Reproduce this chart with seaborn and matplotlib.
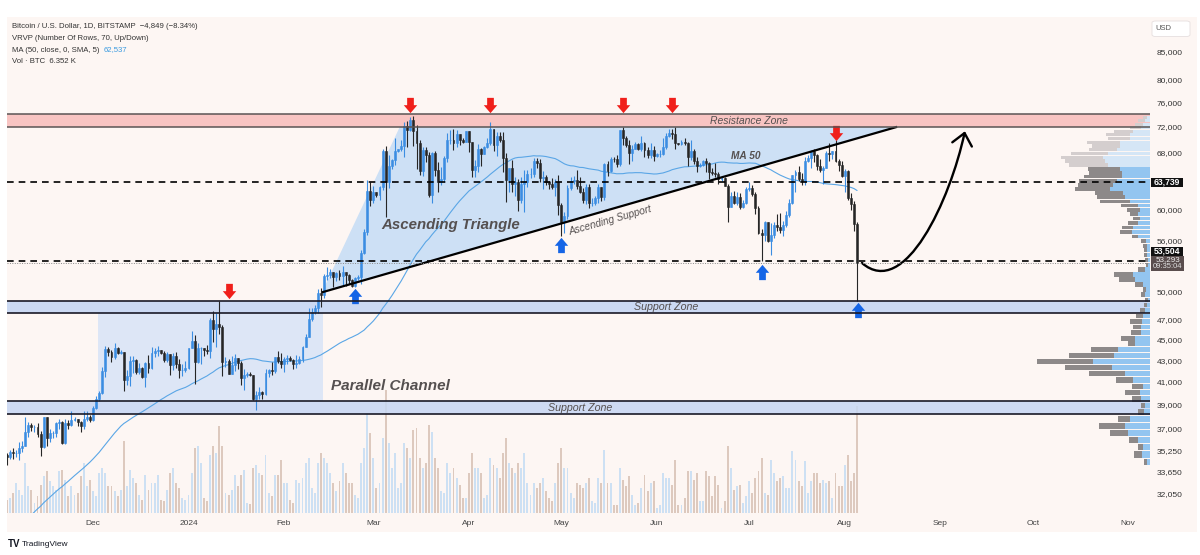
import numpy as np
import pandas as pd
import seaborn as sns
import matplotlib.pyplot as plt
import matplotlib.dates as mdates
from matplotlib.path import Path
from matplotlib.patches import FancyArrowPatch, Rectangle, FancyBboxPatch
from matplotlib.ticker import NullLocator

sns.set_style("white")
plt.rcParams["font.family"] = ["Liberation Sans", "DejaVu Sans"]

# ---- data: BTC/USD daily (Bitstamp), prices in thousands of USD ----
first_day = "2023-11-03"
first_open = 34.9

# closes of the 49 days before the first candle (only used for the 50 day MA)
prior_close = [
    26.6, 26.6, 26.5, 26.8, 27.2, 27.1, 26.6, 26.6, 26.6, 26.3, 26.3, 26.2, 26.4, 27.0, 26.9, 27.0,
    28.0, 27.5, 27.4, 27.8, 27.4, 27.9, 27.9, 27.9, 27.6, 27.4, 26.9, 26.8, 26.9, 26.9, 27.2, 28.5,
    28.4, 28.3, 28.7, 29.7, 30.0, 30.0, 33.1, 33.9, 34.5, 34.2, 33.9, 34.1, 34.5, 34.5, 34.7,
    35.4, 34.9,
]

close = [
    34.7, 35.1, 35.0, 35.0, 35.4, 35.6, 36.7, 37.3, 37.1, 37.1, 36.5, 35.5, 37.9, 36.2, 36.6, 36.6, 37.4, 37.5, 35.8, 37.4, 37.3, 37.7, 37.8, 37.5, 37.2, 37.8, 37.9, 37.7,  # Nov
    38.7, 39.5, 40.0, 42.0, 44.1, 43.8, 43.3, 44.2, 43.7, 43.8, 41.2, 41.5, 42.9, 43.0, 41.9, 42.3, 41.4, 42.7, 42.3, 43.7, 43.9, 44.0, 43.7, 43.0, 43.6, 42.5, 43.4, 42.6, 42.1, 42.1, 42.3,  # Dec
    44.2, 44.9, 42.8, 44.2, 44.2, 44.0, 43.9, 47.0, 46.1, 46.6, 46.3, 42.8, 42.9, 41.7, 42.5, 43.2, 42.7, 41.3, 41.6, 41.7, 41.6, 39.5, 39.8, 40.1, 39.9, 41.8, 42.1, 42.0, 43.3, 42.9, 42.6,  # Jan
    43.1, 43.2, 43.0, 42.6, 42.7, 43.1, 44.3, 45.3, 47.1, 47.8, 48.3, 49.9, 49.7, 51.8, 51.9, 52.2, 51.7, 52.1, 51.8, 52.3, 51.9, 51.3, 50.7, 51.6, 51.7, 54.5, 57.1, 62.5, 61.2,  # Feb
    62.4, 62.0, 63.1, 68.3, 63.8, 66.1, 66.9, 68.3, 68.5, 69.0, 72.1, 71.5, 73.1, 71.4, 69.4, 65.3, 68.4, 67.6, 61.9, 67.9, 65.5, 63.8, 64.1, 67.2, 69.9, 70.0, 69.4, 70.8, 69.9, 69.6, 71.3,  # Mar
    69.7, 65.5, 66.0, 68.5, 67.8, 68.9, 69.4, 71.6, 69.1, 70.6, 70.0, 67.2, 64.0, 65.7, 63.5, 63.8, 61.3, 63.5, 63.8, 64.9, 64.9, 66.8, 66.4, 64.3, 64.5, 63.8, 63.5, 63.1, 63.8, 60.6,  # Apr
    58.3, 59.1, 62.9, 63.9, 64.0, 63.2, 62.3, 61.2, 63.1, 60.8, 60.8, 61.5, 63.0, 61.6, 66.3, 65.3, 67.1, 67.0, 66.3, 71.5, 70.2, 69.2, 68.0, 68.6, 69.3, 68.5, 69.4, 68.4, 67.6, 68.4, 67.5,  # May
    67.8, 67.8, 68.8, 70.6, 71.1, 70.8, 69.4, 69.3, 69.6, 69.5, 67.3, 68.3, 66.8, 66.0, 66.2, 66.7, 66.5, 65.2, 65.0, 64.9, 64.1, 64.3, 63.2, 60.3, 61.8, 60.9, 61.6, 60.3, 60.9, 62.7,  # Jun
    62.9, 62.1, 60.2, 57.0, 56.7, 58.3, 55.9, 56.7, 58.0, 57.7, 57.3, 57.9, 59.2, 60.8, 64.7, 65.1, 64.1, 63.9, 66.7, 67.2, 68.2, 67.6, 66.0, 65.4, 65.8, 67.9, 67.8, 68.3, 66.8, 66.2, 64.6,  # Jul
    65.3, 61.5, 60.7, 58.142, 53.293,  # Aug
]

high = [
    35.0, 35.3, 35.4, 35.3, 35.9, 36.0, 37.9, 37.5, 37.4, 37.3, 37.4, 36.8, 37.9, 37.9, 36.9, 36.8, 37.5, 37.8, 37.6, 37.8, 37.7, 38.4, 37.9, 37.8, 37.6, 38.4, 38.4, 38.1,
    38.9, 39.7, 40.2, 42.4, 44.4, 44.3, 44.0, 44.7, 44.3, 44.0, 43.8, 42.1, 43.4, 43.4, 43.1, 42.7, 42.4, 42.8, 43.5, 44.3, 44.2, 44.4, 44.0, 43.9, 43.8, 43.6, 43.7, 43.8, 43.1, 42.6, 42.9,
    44.2, 45.9, 45.5, 44.7, 44.3, 44.2, 44.5, 47.2, 47.9, 47.7, 49.0, 46.5, 43.3, 43.1, 43.4, 43.6, 43.2, 42.9, 42.2, 41.9, 41.9, 41.6, 40.2, 40.5, 40.2, 42.2, 42.2, 42.8, 43.3, 43.9, 43.7,
    43.3, 43.5, 43.4, 43.1, 43.5, 43.4, 44.4, 45.6, 48.2, 48.2, 48.6, 50.3, 50.4, 52.0, 52.8, 52.6, 52.2, 52.3, 52.5, 52.9, 52.3, 52.0, 51.5, 51.7, 51.9, 54.9, 57.5, 64.0, 63.7,
    63.2, 62.4, 63.2, 68.5, 69.0, 67.6, 67.0, 70.2, 68.6, 70.0, 72.8, 72.9, 73.6, 73.8, 72.3, 70.0, 68.9, 68.9, 68.1, 68.1, 68.2, 66.6, 65.9, 67.5, 71.1, 71.5, 71.7, 71.5, 70.9, 70.3, 71.4,
    71.3, 69.7, 66.9, 69.3, 68.7, 69.0, 70.3, 72.7, 71.7, 71.2, 71.2, 71.2, 67.9, 65.8, 66.9, 64.4, 64.1, 64.5, 65.4, 65.4, 65.7, 67.2, 67.2, 67.1, 65.3, 64.8, 63.9, 64.3, 64.2, 64.7,
    60.8, 59.6, 63.3, 64.5, 64.6, 65.5, 64.4, 62.9, 63.4, 63.5, 61.5, 61.8, 63.4, 63.1, 66.5, 66.7, 67.4, 67.4, 67.7, 71.5, 71.9, 70.6, 70.0, 69.2, 69.6, 69.5, 70.6, 69.6, 68.9, 69.5, 69.0,
    67.9, 68.4, 70.3, 71.0, 71.7, 71.6, 71.9, 69.5, 69.9, 70.2, 69.6, 70.0, 68.5, 67.3, 66.4, 66.9, 67.2, 66.6, 65.7, 66.5, 65.1, 64.5, 64.5, 63.4, 62.3, 62.5, 62.3, 62.2, 61.2, 63.1,
    63.8, 63.3, 62.3, 60.5, 57.5, 58.5, 58.4, 58.2, 58.3, 59.4, 59.5, 58.5, 59.8, 61.4, 64.8, 65.4, 66.0, 65.0, 67.4, 67.6, 68.4, 68.5, 67.8, 67.1, 66.1, 68.2, 69.4, 68.3, 70.0, 67.0, 66.8,
    65.6, 65.5, 62.2, 61.1, 58.3,
]

low = [
    34.1, 34.6, 34.6, 34.7, 34.5, 35.1, 35.6, 36.3, 36.8, 36.7, 36.3, 34.8, 35.4, 35.6, 35.9, 36.2, 36.3, 36.9, 35.7, 35.7, 36.9, 37.2, 37.6, 37.2, 36.7, 36.9, 37.6, 37.5,
    37.6, 38.6, 39.3, 39.9, 41.4, 43.4, 42.8, 43.1, 43.6, 43.6, 40.2, 40.7, 40.6, 41.8, 41.7, 41.7, 41.3, 40.5, 41.8, 42.2, 43.3, 43.4, 43.6, 42.8, 42.8, 41.6, 42.1, 42.3, 41.3, 41.5, 41.9,
    42.2, 44.2, 40.8, 42.7, 42.6, 43.4, 43.6, 43.2, 44.8, 44.3, 45.6, 41.5, 42.4, 41.7, 41.7, 42.0, 42.2, 40.7, 40.3, 41.4, 41.5, 39.4, 38.5, 39.5, 39.5, 39.8, 41.4, 41.6, 41.8, 42.7, 42.3,
    41.9, 42.6, 42.9, 42.2, 42.3, 42.6, 42.8, 44.3, 45.3, 46.9, 47.6, 47.7, 48.4, 49.3, 51.3, 51.6, 50.6, 51.2, 51.3, 50.7, 50.7, 50.9, 50.5, 50.6, 51.3, 50.9, 54.4, 56.7, 60.4,
    60.8, 61.6, 61.3, 62.6, 59.0, 62.9, 65.6, 66.2, 68.1, 68.2, 67.4, 68.8, 71.3, 69.0, 65.6, 64.8, 64.6, 66.6, 61.6, 60.8, 64.6, 62.3, 63.3, 63.8, 66.6, 69.3, 68.4, 68.9, 69.1, 69.5, 69.6,
    68.1, 64.5, 64.5, 65.1, 66.0, 67.8, 68.7, 69.1, 68.2, 67.5, 69.6, 65.1, 61.0, 62.3, 62.3, 61.8, 59.8, 60.8, 59.6, 63.1, 64.3, 64.5, 65.8, 63.8, 62.8, 63.3, 62.8, 62.8, 61.8, 59.2,
    56.6, 56.9, 58.8, 62.6, 63.4, 62.8, 62.2, 60.9, 60.7, 60.2, 60.5, 60.6, 60.8, 61.1, 61.3, 64.6, 65.1, 66.6, 65.9, 66.1, 69.2, 68.9, 66.3, 66.7, 68.5, 68.4, 68.3, 67.3, 67.2, 67.2, 66.7,
    67.4, 67.3, 67.6, 68.6, 70.4, 70.1, 68.5, 69.2, 69.2, 69.2, 66.1, 66.9, 66.3, 65.1, 65.9, 66.0, 65.1, 64.1, 64.7, 64.5, 63.4, 63.9, 63.2, 58.4, 60.3, 60.7, 60.6, 60.0, 60.2, 60.7,
    62.5, 61.8, 59.4, 56.8, 53.5, 56.0, 55.8, 54.3, 56.3, 57.2, 57.0, 56.6, 57.7, 59.0, 60.7, 62.4, 63.9, 63.3, 63.3, 66.6, 65.8, 66.6, 65.4, 65.1, 63.4, 65.8, 66.7, 67.0, 66.6, 65.3, 64.5,
    62.3, 61.3, 59.9, 57.2, 49.0,
]

# daily volume (relative units)
volume = [
    13, 15, 20, 30, 23, 18, 50, 27, 23, 10, 17, 28, 37, 42, 32, 27, 23, 42, 43, 33, 17, 27, 18, 20, 37, 50, 27, 33,
    22, 17, 40, 45, 40, 27, 27, 22, 17, 23, 72, 27, 43, 35, 30, 18, 13, 38, 23, 30, 30, 38, 13, 12, 23, 40, 45, 30, 25, 15, 13,
    18, 40, 65, 67, 50, 15, 12, 58, 67, 60, 87, 67, 20, 18, 23, 38, 27, 38, 43, 10, 9, 45, 48, 40, 38, 58, 20, 17, 38, 38, 53,
    30, 30, 13, 10, 33, 30, 35, 50, 55, 25, 20, 50, 60, 55, 50, 40, 30, 22, 32, 50, 40, 30, 30, 18, 15, 50, 65, 100, 80,
    55, 25, 30, 75, 123, 70, 45, 60, 25, 30, 70, 65, 55, 83, 85, 55, 45, 50, 88, 81, 55, 45, 22, 20, 50, 40, 45, 35, 28, 15, 15,
    40, 60, 45, 45, 40, 15, 18, 55, 48, 45, 35, 60, 75, 50, 45, 40, 50, 45, 60, 30, 18, 30, 25, 30, 35, 22, 15, 12, 30, 50,
    65, 45, 45, 20, 15, 30, 28, 25, 30, 35, 12, 10, 35, 30, 63, 30, 30, 8, 8, 45, 33, 27, 37, 18, 8, 10, 25, 38, 22, 30, 32,
    5, 8, 40, 35, 35, 28, 53, 8, 8, 15, 42, 42, 33, 40, 12, 12, 42, 37, 17, 37, 28, 5, 12, 67, 45, 23, 27, 28, 10, 17,
    32, 20, 35, 42, 55, 20, 18, 53, 40, 32, 35, 37, 25, 25, 62, 53, 32, 27, 52, 20, 32, 40, 40, 30, 33, 30, 32, 15, 40, 27, 27,
    48, 58, 32, 40, 107,
]

# visible range volume profile: 70 rows from bottom to top
vp_low, vp_high = 34.1, 73.9
vp_up = [3, 8, 7, 12, 22, 25, 20, 6, 5, 9, 10, 7, 17, 25, 38, 57, 36, 32, 15, 15,
         9, 9, 8, 7, 5, 3, 2, 5, 4, 7, 15, 17, 5, 2, 2, 3, 3, 3, 4, 12,
         18, 17, 12, 10, 12, 10, 12, 20, 25, 27, 40, 37, 33, 28, 28, 30, 42, 45, 47, 42,
         33, 30, 30, 20, 20, 17, 9, 7, 5, 3]
vp_down = [3, 8, 5, 9, 18, 26, 12, 6, 4, 9, 15, 11, 17, 36, 47, 56, 45, 27, 7, 14,
           10, 8, 12, 7, 5, 3, 3, 4, 3, 8, 16, 19, 7, 2, 3, 3, 3, 4, 5, 6,
           12, 11, 10, 7, 8, 13, 17, 30, 28, 28, 35, 35, 38, 38, 33, 32, 39, 40, 42, 37,
           28, 28, 33, 22, 24, 19, 11, 8, 7, 4]
vp_value_rows = 56

ma_length = 50
ma_last = "62,537"
last_change = "\u22124,849 (\u22128.34%)"
vol_last = "6.352 K"
clock = "09:35:04"

# drawings on the chart
resistance = (72.0, 74.0)
support_hi = (47.7, 49.05)
support_lo = (38.15, 39.25)
level_a, level_b, last_price = 63.739, 53.504, 53.293
support_line = [("2024-02-13 07:00", 49.95), ("2024-08-18", 72.0)]
triangle_corner = ("2024-03-09 14:00", 72.0)
channel = ("2023-12-02 14:00", "2024-02-13 14:00")
red_marks = [("2024-01-14", 50.15), ("2024-03-13", 75.6), ("2024-04-08", 75.6),
             ("2024-05-21", 75.6), ("2024-06-06", 75.6), ("2024-07-29", 71.1)]
blue_marks = [("2024-02-24", 49.5), ("2024-05-01", 55.45), ("2024-07-05", 52.25),
              ("2024-08-05 05:00", 48.05)]
projection = [("2024-08-06 14:00", 53.3), ("2024-08-20 12:00", 49.1),
              ("2024-09-04 05:00", 61.3), ("2024-09-09", 71.3)]

# ---- colours ----
BG = "#fdf6f3"
UP, DOWN = "#3b8de2", "#262626"
VOL_UP, VOL_DN = "#cde0f3", "#ddc9be"
MA_C = "#5aa6e6"
TXT = "#555050"

W, H = 1200, 555
fig = plt.figure(figsize=(12, 5.55), dpi=100)
fig.patch.set_facecolor("white")


def fx(px):
    return px / W


def fy(py):
    return 1 - py / H


def dn(s):
    return mdates.date2num(pd.Timestamp(s))


def fig_box(x0, y0, x1, y1, **kw):
    # rectangle given in pixels from the top-left corner of the image
    fig.patches.append(Rectangle((fx(x0), fy(y1)), fx(x1) - fx(x0), fy(y0) - fy(y1),
                                 transform=fig.transFigure, **kw))


fig_box(7, 17, 1197, 532, facecolor=BG, edgecolor="none", zorder=-10)

rect = [fx(7), fy(513), fx(1150) - fx(7), fy(17) - fy(513)]
axv = fig.add_axes(rect, zorder=0)
ax = fig.add_axes(rect, zorder=1)
ax.set_yscale("log")
axp = fig.add_axes(rect, zorder=2, sharey=ax)
for a in (axv, ax, axp):
    a.set_facecolor("none")

c = np.array(close)
h = np.array(high)
l = np.array(low)
o = np.r_[first_open, c[:-1]]
dates = pd.date_range(first_day, periods=len(c), freq="D")
x = mdates.date2num(dates)
up = c >= o
col = np.where(up, UP, DOWN)

dec1 = dn("2023-12-01")
ppd = 3.081
xlim = (dec1 - 86 / ppd, dec1 + 1057 / ppd)

# volume
axv.bar(x, volume, width=0.62, color=np.where(up, VOL_UP, VOL_DN), linewidth=0)
axv.set_xlim(*xlim)
axv.set_ylim(0, 496)
axv.axis("off")

# zones and pattern fills
ax.axhspan(*resistance, color="#f8c4c2", zorder=1, lw=0)
ax.axhspan(*support_hi, color="#c6d6f3", alpha=0.9, zorder=1, lw=0)
ax.axhspan(*support_lo, color="#c6d6f3", alpha=0.85, zorder=1, lw=0)
ax.fill_between([dn(channel[0]), dn(channel[1])], support_lo[1], support_hi[0],
                color="#dde6f6", zorder=1, lw=0)
(sx0, sy0), (sx1, sy1) = support_line
ax.fill([dn(sx0), dn(triangle_corner[0]), dn(sx1)], [sy0, triangle_corner[1], sy1],
        color="#cde0f5", zorder=1, lw=0)

# candles
ax.vlines(x, l, h, colors=col, lw=0.8, zorder=4)
ax.bar(x, np.abs(c - o), bottom=np.minimum(o, c), width=0.62, color=col,
       edgecolor=col, linewidth=0.4, zorder=5)

# moving average
ma = pd.Series(prior_close + close).rolling(ma_length).mean().to_numpy()[len(prior_close):]
sns.lineplot(x=x, y=ma, ax=ax, color=MA_C, lw=0.8, zorder=3)

# ascending support line
ax.plot([dn(sx0), dn(sx1)], [sy0, sy1], color="black", lw=1.6, zorder=6,
        solid_capstyle="butt")

# arrow marks
down_arrow = Path([(-0.22, 0.5), (0.22, 0.5), (0.22, 0.02), (0.44, 0.02), (0.0, -0.5),
                   (-0.44, 0.02), (-0.22, 0.02), (-0.22, 0.5)])
up_arrow = Path(down_arrow.vertices * [1, -1])
for d, p in red_marks:
    ax.plot(dn(d), p, marker=down_arrow, ms=11, color="#f01f1a", mew=0, zorder=7)
for d, p in blue_marks:
    ax.plot(dn(d), p, marker=up_arrow, ms=11, color="#1565e6", mew=0, zorder=7)

# projected path
pverts = [(dn(d), p) for d, p in projection]
curve = Path(pverts, [Path.MOVETO, Path.CURVE4, Path.CURVE4, Path.CURVE4])
ax.add_patch(FancyArrowPatch(path=curve, arrowstyle="->,head_length=0.7,head_width=0.6",
                             mutation_scale=12, color="black", lw=1.7, zorder=7))

# text labels
lab = dict(color=TXT, style="italic", ha="center", va="center", zorder=8)
ax.text(dn("2024-07-01"), np.sqrt(resistance[0] * resistance[1]), "Resistance Zone", fontsize=7.5, **lab)
ax.text(dn("2024-06-04"), np.sqrt(support_hi[0] * support_hi[1]), "Support Zone", fontsize=7.7, **lab)
ax.text(dn("2024-05-07"), np.sqrt(support_lo[0] * support_lo[1]), "Support Zone", fontsize=7.7, **lab)
ax.text(dn("2024-03-26"), 57.97, "Ascending Triangle", fontsize=10.8, fontweight="bold", **lab)
ax.text(dn("2024-03-06 10:00"), 40.6, "Parallel Channel", fontsize=11, fontweight="bold", **lab)
ax.text(dn("2024-05-17"), 58.6, "Ascending Support", fontsize=7.3, rotation=15.8, **lab)
ax.text(dn("2024-06-30"), 67.5, "MA 50", fontsize=7.3, fontweight="bold", **lab)

ax.set_xlim(*xlim)
ax.set_xlabel("")
ax.set_ylabel("")
for s in ax.spines.values():
    s.set_visible(False)

months = pd.date_range("2023-12-01", "2024-11-01", freq="MS")
ax.set_xticks(mdates.date2num(months))
ax.set_xticklabels(["2024" if m.month == 1 else m.strftime("%b") for m in months])
ax.tick_params(axis="x", length=0, pad=5, labelsize=6, labelcolor="#444444")

price_ticks = [85000, 80000, 76000, 72000, 68000, 60000, 56000, 50000, 47000, 45000,
               43000, 41000, 39000, 37000, 35250, 33650, 32050]
ax.yaxis.tick_right()
ax.yaxis.set_minor_locator(NullLocator())
ax.set_yticks([v / 1000 for v in price_ticks])
ax.set_yticklabels([f"{v:,}" for v in price_ticks])
ax.tick_params(axis="y", length=0, pad=5, labelsize=6, labelcolor="#333333")

# volume profile (bars grow leftwards from the right edge)
edges = np.linspace(vp_low, vp_high, len(vp_up) + 1)
rows = np.arange(len(vp_up))
in_va = rows < vp_value_rows
axp.barh(edges[:-1], vp_up, height=np.diff(edges) * 0.85, left=0, align="edge",
         color=np.where(in_va, "#93c5f0", "#d5e6f6"), linewidth=0, zorder=2)
axp.barh(edges[:-1], vp_down, height=np.diff(edges) * 0.85, left=vp_up, align="edge",
         color=np.where(in_va, "#8d8989", "#d4cece"), linewidth=0, zorder=2)
axp.set_xlim(1143, 0)

# horizontal levels on top of the profile
for v in resistance:
    axp.axhline(v, color="#5a5454", lw=1.1, zorder=5)
for v in support_hi + support_lo:
    axp.axhline(v, color="#1a1a28", lw=1.2, zorder=5)
axp.axhline(last_price, color="#888888", lw=0.7, ls=(0, (1, 1.5)), zorder=4)
for v in (level_a, level_b):
    axp.axhline(v, color="black", lw=1.2, ls=(0, (4, 3)), zorder=5)
axp.axis("off")
ax.set_ylim(30.68, 91.77)

# price scale labels
fig_box(1151, 177.5, 1183, 187, facecolor="#111111", edgecolor="none", zorder=5)
fig.text(fx(1167), fy(182.3), f"{level_a * 1000:,.0f}", color="white", fontsize=6.2,
         fontweight="bold", ha="center", va="center", zorder=6)
fig_box(1151, 246.5, 1183, 255.5, facecolor="#111111", edgecolor="none", zorder=5)
fig.text(fx(1167), fy(251), f"{level_b * 1000:,.0f}", color="white", fontsize=6.2,
         fontweight="bold", ha="center", va="center", zorder=6)
fig_box(1151, 256, 1184, 271, facecolor="#5a4d4d", edgecolor="none", zorder=5)
fig.text(fx(1167.5), fy(259.8), f"{last_price * 1000:,.0f}", color="#f0f0f0", fontsize=5.8,
         ha="center", va="center", zorder=6)
fig.text(fx(1167.5), fy(267), clock, color="#e0e0e0", fontsize=5.5,
         ha="center", va="center", zorder=6)
fig.patches.append(FancyBboxPatch((fx(1152), fy(36.5)), fx(1190) - fx(1152), fy(21) - fy(36.5),
                                  boxstyle="round,pad=0,rounding_size=0.003",
                                  transform=fig.transFigure, facecolor="white",
                                  edgecolor="#e6dfdf", lw=0.6, zorder=5))
fig.text(fx(1163), fy(29), "USD", color="#555555", fontsize=5.5, ha="center", va="center",
         zorder=6)

# legend lines in the top-left corner
hdr = dict(fontsize=5.6, color="#333333", ha="left", va="center")
fig.text(fx(12), fy(26.7), f"Bitcoin / U.S. Dollar, 1D, BITSTAMP  {last_change}", **hdr)
fig.text(fx(12), fy(38.5), "VRVP (Number Of Rows, 70, Up/Down)", **hdr)
fig.text(fx(12), fy(50), f"MA ({ma_length}, close, 0, SMA, 5)", **hdr)
fig.text(fx(104), fy(50), ma_last, **dict(hdr, color="#3b9be0"))
fig.text(fx(12), fy(61.7), f"Vol \u00b7 BTC  {vol_last}", **hdr)

fig.text(fx(8), fy(544), "TV", fontsize=7, fontweight="bold", color="#131722", ha="left", va="center")
fig.text(fx(22), fy(544), "TradingView", fontsize=6, color="#131722", ha="left", va="center")

fig.savefig("out.png", dpi=100, facecolor="white")
